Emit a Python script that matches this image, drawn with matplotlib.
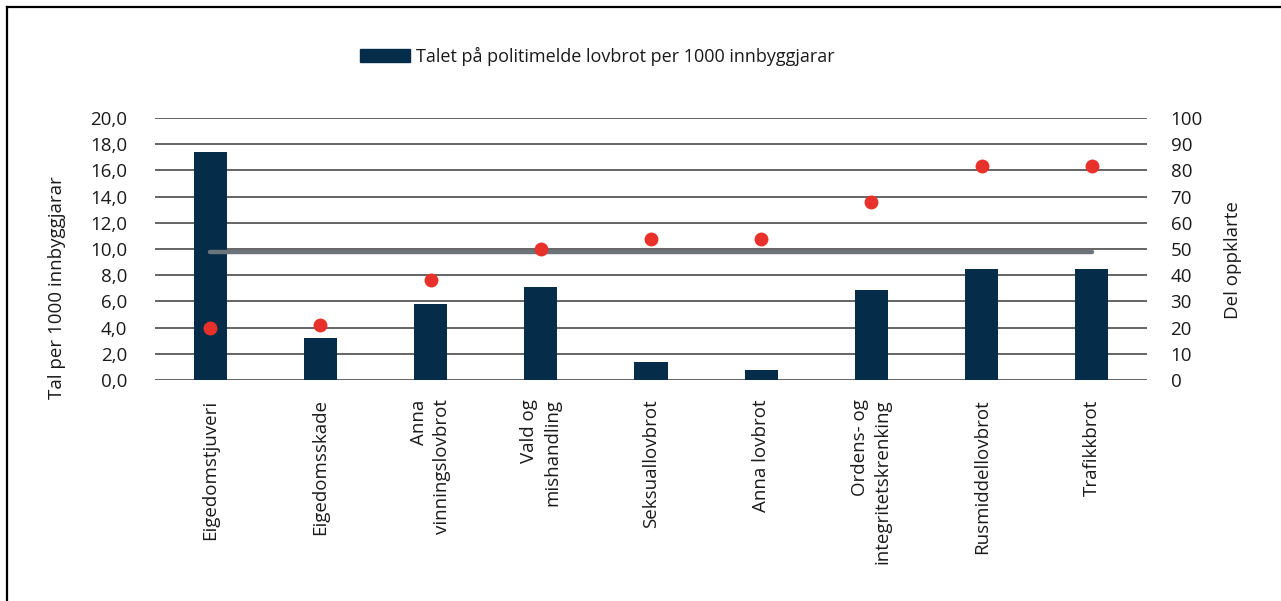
import matplotlib
matplotlib.use("Agg")
import matplotlib.pyplot as plt
from matplotlib.patches import Patch
from matplotlib.lines import Line2D
from matplotlib.ticker import FuncFormatter, MultipleLocator

plt.rcParams['font.family'] = ['Open Sans', 'DejaVu Sans']

categories = ["Eigedomstjuveri", "Eigedomsskade", "Anna\nvinningslovbrot",
              "Vald og\nmishandling", "Seksuallovbrot", "Anna lovbrot",
              "Ordens- og\nintegritetskrenking", "Rusmiddellovbrot", "Trafikkbrot"]
rate_per_1000 = [17.4, 3.2, 5.8, 7.1, 1.4, 0.8, 6.9, 8.5, 8.5]
share_cleared = [20, 21, 38, 50, 54, 54, 68, 81.5, 81.5]
average_cleared = [49] * len(categories)
legend_label = "Talet på politimelde lovbrot per 1000 innbyggjarar"

bar_color = "#052d49"
dot_color = "#e8312a"
line_color = "#6b7478"
grid_color = "#4a4a4a"
text_color = "#1a1a1a"

W, H = 1281, 601
fig = plt.figure(figsize=(W / 100, H / 100), dpi=100)
ax = fig.add_axes([155 / W, 1 - 380 / H, (1147 - 155) / W, (380 - 118) / H])
ax2 = ax.twinx()

x = list(range(len(categories)))
ax.bar(x, rate_per_1000, width=0.3, color=bar_color, zorder=3)
ax.set_xlim(-0.5, len(categories) - 0.5)
ax.set_ylim(0, 20)
ax.yaxis.set_major_locator(MultipleLocator(2))
ax.yaxis.set_major_formatter(FuncFormatter(lambda v, p: f"{v:.1f}".replace(".", ",")))
ax.grid(axis='y', color=grid_color, linewidth=1.2, zorder=0)
ax.set_axisbelow(True)

ax2.plot(x, average_cleared, color=line_color, linewidth=3.2, solid_capstyle='round', zorder=3)
ax2.scatter(x, share_cleared, s=100, color=dot_color, zorder=4, linewidths=0)
ax2.set_ylim(0, 100)
ax2.yaxis.set_major_locator(MultipleLocator(10))

for a in (ax, ax2):
    for s in a.spines.values():
        s.set_visible(False)
    a.tick_params(length=0, labelsize=13.5, colors=text_color)

ax.tick_params(axis='y', pad=20)
ax2.tick_params(axis='y', pad=17)
ax.set_xticks(x)
ax.set_xticklabels(categories, rotation=90, ha='center', va='top',
                   multialignment='right', fontsize=13.5, linespacing=1.35)
ax.tick_params(axis='x', pad=14)

fig.text(57 / W, 1 - 288 / H, "Tal per 1000 innbyggjarar", rotation=90,
         ha='center', va='center', fontsize=13.5, color=text_color)
fig.text(1233 / W, 1 - 260 / H, "Del oppklarte", rotation=90,
         ha='center', va='center', fontsize=13.5, color=text_color)

fig.legend(handles=[Patch(color=bar_color)], labels=[legend_label],
           loc='center', bbox_to_anchor=(597 / W, 1 - 56 / H), frameon=False,
           fontsize=13, handlelength=2.8, handleheight=0.75, handletextpad=0.3,
           labelcolor=text_color)

fig.add_artist(Line2D([6.5 / W, 1], [1 - 6.5 / H, 1 - 6.5 / H], color='black',
                      linewidth=1.6, transform=fig.transFigure))
fig.add_artist(Line2D([6.5 / W, 6.5 / W], [0, 1 - 6.5 / H], color='black',
                      linewidth=1.6, transform=fig.transFigure))

fig.savefig("out.png", dpi=100)
